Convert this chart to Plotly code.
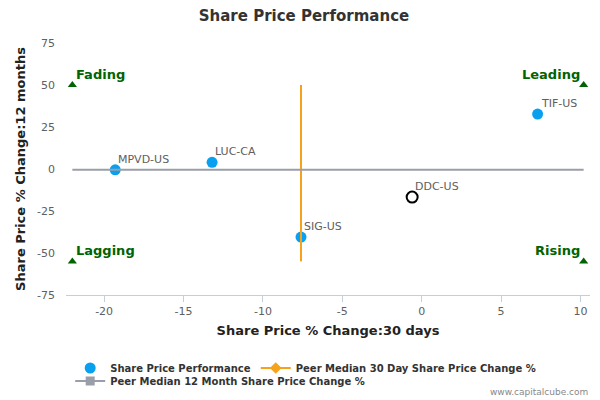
import plotly.graph_objects as go

tickers = ["MPVD-US", "LUC-CA", "SIG-US", "TIF-US"]
chg_30d = [-19.3, -13.2, -7.6, 7.3]
chg_12m = [-0.5, 4.0, -40.5, 32.7]

focus_ticker = ["DDC-US"]
focus_30d = [-0.6]
focus_12m = [-16.7]

peer_med_30d = -7.6
peer_med_30d_span = [50, -55]
peer_med_12m = -0.5
peer_med_12m_span = [-22.0, 10.2]

quad_labels = ["Fading", "Leading", "Lagging", "Rising"]
quad_x = [-22.0, 10.2, -22.0, 10.2]
quad_y = [50, 50, -55, -55]

x_ticks = [-20, -15, -10, -5, 0, 5, 10]
x_ticktext = ["-20", "-15", "-10", "-5", "0", "5", "10"]
y_ticks = [-75, -50, -25, 0, 25, 50, 75]
y_ticktext = ["-75", "-50", "-25", "0", "25", "50", "75"]

FONT = "DejaVu Sans"
fig = go.Figure()

fig.add_trace(go.Scatter(
    x=chg_30d, y=chg_12m, mode="markers",
    marker=dict(color="#0aa0f0", size=11), name="Share Price Performance",
    legend="legend", cliponaxis=False))

fig.add_trace(go.Scatter(
    x=[peer_med_30d, peer_med_30d], y=peer_med_30d_span, mode="lines",
    line=dict(color="#f7a21b", width=2), showlegend=False))
fig.add_trace(go.Scatter(
    x=[None], y=[None], mode="lines+markers",
    line=dict(color="#f7a21b", width=2), marker=dict(symbol="diamond", size=9, color="#f7a21b"),
    name="Peer Median 30 Day Share Price Change %", legend="legend"))

fig.add_trace(go.Scatter(
    x=peer_med_12m_span, y=[peer_med_12m, peer_med_12m], mode="lines",
    line=dict(color="#9a9ea8", width=2), showlegend=False))
fig.add_trace(go.Scatter(
    x=[None], y=[None], mode="lines+markers",
    line=dict(color="#9a9ea8", width=2), marker=dict(symbol="square", size=9, color="#9a9ea8"),
    name="Peer Median 12 Month Share Price Change %", legend="legend2"))

fig.add_trace(go.Scatter(
    x=focus_30d, y=focus_12m, mode="markers",
    marker=dict(color="white", size=11, line=dict(color="black", width=2)),
    showlegend=False, cliponaxis=False))

fig.add_trace(go.Scatter(
    x=quad_x, y=quad_y, mode="markers",
    marker=dict(symbol="triangle-up", color="#006400", size=8),
    showlegend=False, cliponaxis=False))

for t, px, py in zip(tickers + focus_ticker, chg_30d + focus_30d, chg_12m + focus_12m):
    fig.add_annotation(x=px, y=py, text=t, showarrow=False, xanchor="left", yanchor="bottom",
                       xshift=1, yshift=2, font=dict(size=11, color="#606060", family=FONT))

for lbl, qx, qy in zip(quad_labels, quad_x, quad_y):
    left = qx < 0
    fig.add_annotation(
        x=qx, y=qy, text=lbl, showarrow=False,
        xanchor="left" if left else "right", yanchor="bottom",
        xshift=2 if left else -2, yshift=1,
        font=dict(size=13, color="#006400", family=FONT, weight="bold"))

fig.add_annotation(
    xref="paper", yref="paper", x=1.0, y=-0.385, xanchor="right", yanchor="middle",
    text="www.capitalcube.com", showarrow=False,
    font=dict(size=9, color="#888888", family=FONT))

legend_font = dict(size=10, color="#333333", family=FONT, weight="bold")
fig.update_layout(
    width=592, height=392,
    margin=dict(l=58, r=10, t=35, b=105, autoexpand=False),
    plot_bgcolor="white", paper_bgcolor="white",
    font=dict(family=FONT, color="#333333"),
    title=dict(text="Share Price Performance", x=0.5, xref="container", y=0.98, yref="container",
               yanchor="middle", font=dict(size=15, color="#333333", family=FONT, weight="bold")),
    showlegend=True,
    legend=dict(orientation="h", x=0.008, y=0.0816, yref="container", xanchor="left", yanchor="middle",
                font=legend_font, itemwidth=30, bgcolor="rgba(0,0,0,0)"),
    legend2=dict(orientation="h", x=0.008, y=0.0485, yref="container", xanchor="left", yanchor="middle",
                 font=legend_font, itemwidth=30, bgcolor="rgba(0,0,0,0)"),
    xaxis=dict(range=[-22.4, 10.6], tickvals=x_ticks, ticktext=x_ticktext, automargin=False,
               showgrid=False, zeroline=False, showline=True, linecolor="#c0d0e0",
               ticks="outside", tickcolor="#c0d0e0", ticklen=6,
               tickfont=dict(size=11, color="#606060"),
               title=dict(text="Share Price % Change:30 days",
                          font=dict(size=13, color="#222222", weight="bold"), standoff=8)),
    yaxis=dict(range=[-75, 75], tickvals=y_ticks, ticktext=y_ticktext, automargin=False,
               showgrid=False, zeroline=False, showline=False, ticklabelstandoff=10,
               tickfont=dict(size=11, color="#606060"),
               title=dict(text="Share Price % Change:12 months",
                          font=dict(size=13, color="#222222", weight="bold"), standoff=8)),
)

fig.write_html("out.html")
